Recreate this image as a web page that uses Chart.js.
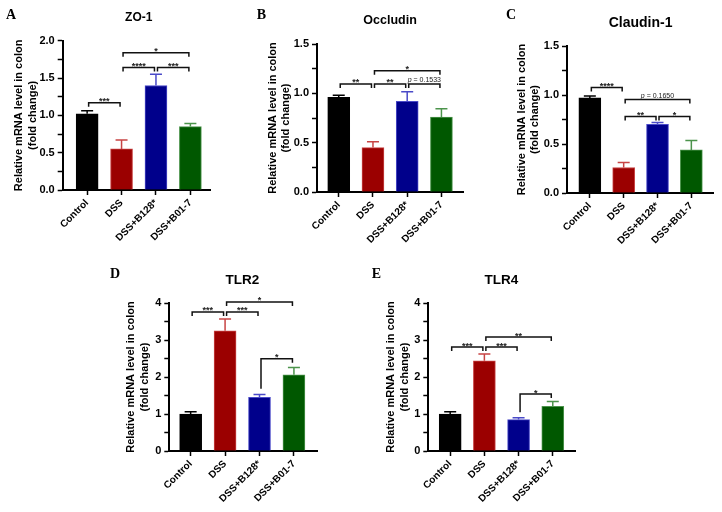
<!DOCTYPE html>
<html>
<head>
<meta charset="utf-8">
<script src="https://cdn.jsdelivr.net/npm/chart.js@4.4.1/dist/chart.umd.min.js"></script>
<style>
  body { margin: 0; background: #fff; }
  #fig { position: relative; width: 722px; height: 512px; overflow: hidden; background: #fff; }
  #fig canvas { position: absolute; }
</style>
</head>
<body>
<div id="fig">
  <canvas id="chartA" width="236" height="255" style="left:0px;top:0px"></canvas>
  <canvas id="chartB" width="236" height="255" style="left:240px;top:0px"></canvas>
  <canvas id="chartC" width="242" height="255" style="left:480px;top:0px"></canvas>
  <canvas id="chartD" width="240" height="250" style="left:100px;top:262px"></canvas>
  <canvas id="chartE" width="240" height="250" style="left:360px;top:262px"></canvas>
</div>
<script>
// groups on the x axis
var groups = ['Control', 'DSS', 'DSS+B128*', 'DSS+B01-7'];

// mean and upper SEM
var zo1Mean = [1.02, 0.55, 1.40, 0.85];
var zo1Err = [0.04, 0.12, 0.15, 0.04];
var occMean = [0.96, 0.45, 0.92, 0.76];
var occErr = [0.02, 0.06, 0.095, 0.085];
var cldMean = [0.97, 0.26, 0.70, 0.44];
var cldErr = [0.02, 0.05, 0.02, 0.095];
var tlr2Mean = [1.00, 3.25, 1.45, 2.06];
var tlr2Err = [0.06, 0.32, 0.08, 0.20];
var tlr4Mean = [1.00, 2.44, 0.85, 1.21];
var tlr4Err = [0.06, 0.18, 0.05, 0.13];

// significance brackets: [from group, to group, level, label, (left leg end)]
var zo1Sig = [[0, 1, 1.17, '***'], [1, 2, 1.64, '****'], [2, 3, 1.64, '***'], [1, 3, 1.84, '*']];
var occSig = [[0, 1, 1.095, '**'], [1, 2, 1.095, '**'], [2, 3, 1.095, 'p = 0.1533'], [1, 3, 1.23, '*']];
var cldSig = [[0, 1, 1.077, '****'], [1, 3, 0.955, 'p = 0.1650'], [1, 2, 0.78, '**'], [2, 3, 0.78, '*']];
var tlr2Sig = [[0, 1, 3.76, '***'], [1, 2, 3.76, '***'], [1, 3, 4.03, '*'], [2, 3, 2.49, '*', 1.68]];
var tlr4Sig = [[0, 1, 2.81, '***'], [1, 2, 2.81, '***'], [1, 3, 3.08, '**'], [2, 3, 1.54, '*', 1.05]];

var barColors = ['#000000', '#9b0000', '#00008b', '#005800'];
var errColors = ['#000000', '#c84444', '#4a4ac8', '#4c944c'];
var sans = 'Arial, "Liberation Sans", sans-serif';

Chart.defaults.font.family = sans;
Chart.defaults.color = '#000';

var figExtras = {
  id: 'figExtras',
  afterDatasetsDraw: function (chart, args, opts) {
    var ctx = chart.ctx, xs = chart.scales.x, ys = chart.scales.y;
    ctx.save();
    // error bars (upper only)
    opts.means.forEach(function (m, i) {
      var x = xs.getPixelForValue(i);
      var y0 = ys.getPixelForValue(m);
      var y1 = ys.getPixelForValue(m + opts.errs[i]);
      ctx.strokeStyle = errColors[i];
      ctx.lineWidth = 1.5;
      ctx.beginPath();
      ctx.moveTo(x, y0); ctx.lineTo(x, y1);
      ctx.moveTo(x - 6, y1); ctx.lineTo(x + 6, y1);
      ctx.stroke();
    });
    // brackets
    opts.brackets.forEach(function (b) {
      var xa = xs.getPixelForValue(b[0]) + 1.5;
      var xb = xs.getPixelForValue(b[1]) - 1.5;
      var y = ys.getPixelForValue(b[2]);
      var yl = b.length > 4 ? ys.getPixelForValue(b[4]) : y + 4;
      ctx.strokeStyle = '#111';
      ctx.lineWidth = 1.5;
      ctx.beginPath();
      ctx.moveTo(xa, yl); ctx.lineTo(xa, y); ctx.lineTo(xb, y); ctx.lineTo(xb, y + 4);
      ctx.stroke();
      var mid = (xa + xb) / 2;
      ctx.fillStyle = '#222';
      ctx.textBaseline = 'alphabetic';
      if (b[3].charAt(0) === 'p') {
        ctx.font = 'italic 7px ' + sans;
        var w1 = ctx.measureText('p').width;
        ctx.font = '7px ' + sans;
        var rest = b[3].slice(1);
        var w2 = ctx.measureText(rest).width;
        var x0 = mid - (w1 + w2) / 2;
        ctx.textAlign = 'left';
        ctx.font = 'italic 7px ' + sans;
        ctx.fillText('p', x0, y - 1.5);
        ctx.font = '7px ' + sans;
        ctx.fillText(rest, x0 + w1, y - 1.5);
      } else {
        ctx.font = 'bold 9px ' + sans;
        ctx.textAlign = 'center';
        ctx.fillText(b[3], mid, y + 1.5);
      }
    });
    ctx.restore();
  },
  afterDraw: function (chart, args, opts) {
    var ctx = chart.ctx, xs = chart.scales.x;
    ctx.save();
    ctx.fillStyle = '#000';
    ctx.textBaseline = 'middle';
    ctx.textAlign = 'center';
    ctx.font = 'bold ' + opts.titleSize + 'px ' + sans;
    ctx.fillText(opts.title, xs.getPixelForValue(1.5), chart.chartArea.top - 23);
    ctx.textAlign = 'left';
    ctx.font = 'bold 14px "Times New Roman", "Liberation Serif", serif';
    ctx.fillText(opts.letter, opts.letterX, opts.letterY);
    ctx.restore();
  }
};

function makePanel(p) {
  var canvas = document.getElementById(p.id);
  return new Chart(canvas, {
    type: 'bar',
    data: {
      datasets: [{
        data: p.means.map(function (v, i) { return { x: i, y: v }; }),
        backgroundColor: barColors,
        borderColor: errColors,
        borderWidth: 1,
        barThickness: 22
      }]
    },
    options: {
      responsive: false,
      animation: false,
      devicePixelRatio: 1,
      layout: { padding: { top: p.top, right: p.right, left: 0, bottom: 0 } },
      plugins: {
        legend: { display: false },
        tooltip: { enabled: false },
        figExtras: {
          means: p.means, errs: p.errs, brackets: p.brackets,
          title: p.title, titleSize: p.titleSize,
          letter: p.letter, letterX: p.letterX, letterY: p.letterY
        }
      },
      scales: {
        x: {
          type: 'linear',
          offset: false,
          min: p.xMin,
          max: p.xMax,
          afterBuildTicks: function (s) {
            s.ticks = groups.map(function (g, i) { return { value: i }; });
          },
          afterFit: function (s) { s.height = p.xh; },
          ticks: {
            autoSkip: false, minRotation: 45, maxRotation: 45, padding: 2,
            color: '#000', font: { size: 10, weight: 'bold' },
            callback: function (v) { return groups[v]; }
          },
          grid: { offset: false, drawOnChartArea: false, drawTicks: true, tickLength: 5, tickWidth: 1.5, tickColor: '#000' },
          border: { display: true, color: '#000', width: 2 }
        },
        y: {
          min: 0,
          max: p.yMax,
          afterFit: function (s) { s.width = p.yw; },
          ticks: {
            stepSize: p.minor, padding: 3, autoSkip: false,
            color: '#000', font: { size: 11, weight: 'bold' },
            callback: function (v) {
              var r = v / p.major;
              if (Math.abs(r - Math.round(r)) > 1e-6) return '';
              return v.toFixed(p.dec);
            }
          },
          grid: { drawOnChartArea: false, drawTicks: true, tickLength: 5, tickWidth: 1.5, tickColor: '#000' },
          border: { display: true, color: '#000', width: 2 },
          title: {
            display: true,
            text: ['Relative mRNA level in colon', '(fold change)'],
            color: '#000',
            font: { size: 11, weight: 'bold', lineHeight: 1.27 },
            padding: { top: p.yTitle - 7, bottom: 0 }
          }
        }
      }
    },
    plugins: [figExtras]
  });
}

makePanel({ id: 'chartA', means: zo1Mean, errs: zo1Err, brackets: zo1Sig, title: 'ZO-1', titleSize: 12,
  letter: 'A', letterX: 6, letterY: 15, yw: 62.7, top: 40.7, right: 26, xh: 65,
  xMin: -0.71, xMax: 3.57, yMax: 2, major: 0.5, minor: 0.25, dec: 1, yTitle: 19 });
makePanel({ id: 'chartB', means: occMean, errs: occErr, brackets: occSig, title: 'Occludin', titleSize: 12.5,
  letter: 'B', letterX: 16.7, letterY: 15, yw: 77, top: 44, right: 13, xh: 63,
  xMin: -0.635, xMax: 3.63, yMax: 1.5, major: 0.5, minor: 0.25, dec: 1, yTitle: 32.5 });
makePanel({ id: 'chartC', means: cldMean, errs: cldErr, brackets: cldSig, title: 'Claudin-1', titleSize: 14,
  letter: 'C', letterX: 26, letterY: 15, yw: 87, top: 46, right: 9, xh: 62,
  xMin: -0.675, xMax: 3.64, yMax: 1.5, major: 0.5, minor: 0.25, dec: 1, yTitle: 41.5 });
makePanel({ id: 'chartD', means: tlr2Mean, errs: tlr2Err, brackets: tlr2Sig, title: 'TLR2', titleSize: 13.5,
  letter: 'D', letterX: 10, letterY: 12, yw: 69.3, top: 41, right: 23, xh: 61,
  xMin: -0.62, xMax: 3.67, yMax: 4, major: 1, minor: 0.5, dec: 0, yTitle: 31 });
makePanel({ id: 'chartE', means: tlr4Mean, errs: tlr4Err, brackets: tlr4Sig, title: 'TLR4', titleSize: 13.5,
  letter: 'E', letterX: 11.7, letterY: 12, yw: 68.3, top: 41, right: 25, xh: 61,
  xMin: -0.64, xMax: 3.65, yMax: 4, major: 1, minor: 0.5, dec: 0, yTitle: 31 });
</script>
</body>
</html>
